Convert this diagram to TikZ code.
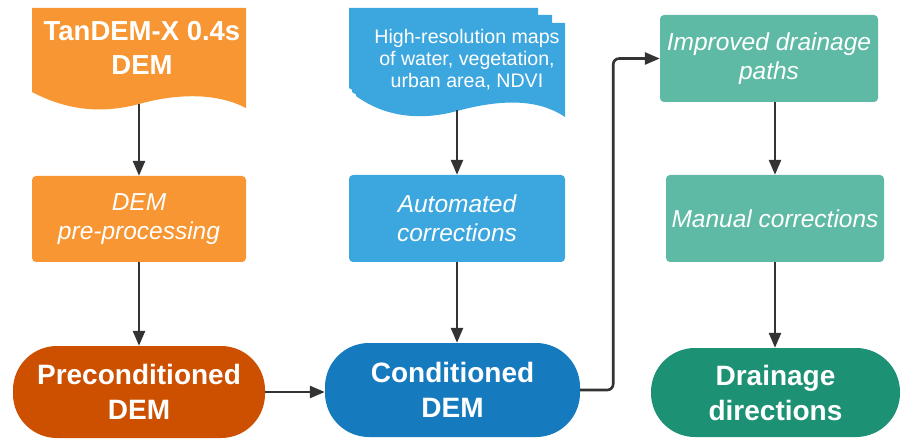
\documentclass[tikz,border=0pt]{standalone}
\usepackage{fontspec}
\setmainfont{Liberation Sans}
\usetikzlibrary{arrows.meta}
\definecolor{orangeL}{RGB}{247,150,51}
\definecolor{orangeD}{RGB}{204,80,0}
\definecolor{blueL}{RGB}{60,166,222}
\definecolor{blueD}{RGB}{22,122,191}
\definecolor{tealL}{RGB}{94,186,165}
\definecolor{tealD}{RGB}{28,145,116}
\definecolor{linkc}{RGB}{51,51,51}
\begin{document}
\begin{tikzpicture}[x=1pt,y=-1pt,
  box/.style={rectangle, rounded corners=4pt, minimum width=214pt, minimum height=86pt,
    inner sep=0pt, text=white, align=center, font=\fontsize{24.5}{29}\selectfont\itshape},
  term/.style={rectangle, rounded corners=44pt, minimum height=92pt, inner sep=0pt,
    text=white, align=center, font=\fontsize{28}{35}\selectfont\bfseries},
  doctext/.style={inner sep=0pt, text=white, align=center},
  link/.style={draw=linkc, line width=2.6pt, -{Triangle[length=15pt,width=12pt]}}
]
\useasboundingbox (0,0) rectangle (906,441);

% input DEM (document shape)
\fill[orangeL] (32,92) -- (32,8) -- (246,8) -- (246,108)
  .. controls (215,92) and (175,94) .. (139,104)
  .. controls (105,113) and (70,112) .. (32,92) -- cycle;
\node[doctext, font=\fontsize{27.5}{34}\selectfont\bfseries] (tdx) at (142,48) {TanDEM-X 0.4s\\DEM};
\coordinate (tdxb) at (139,104);

% auxiliary maps (stacked documents)
\fill[blueL] (349,88) -- (349,8) -- (538,8) -- (538,100)
  .. controls (500,85) and (460,88) .. (430,98)
  .. controls (400,106) and (375,104) .. (349,88) -- cycle;
\fill[blueL] (352,92) -- (352,15) -- (552,15) -- (552,108)
  .. controls (515,92) and (475,95) .. (445,104)
  .. controls (410,114) and (380,110) .. (352,92) -- cycle;
\fill[blueL] (356,96) -- (356,23) -- (565,23) -- (565,117)
  .. controls (540,100) and (505,98) .. (457,111)
  .. controls (420,121) and (385,117) .. (356,96) -- cycle;
\node[doctext, font=\fontsize{19.6}{22}\selectfont] (maps) at (467,60)
  {High-resolution maps\\of water, vegetation,\\urban area, NDVI};
\coordinate (mapsb) at (457,110);

% processing steps
\node[box, fill=orangeL] (pre) at (139,219) {DEM\\pre-processing};
\node[box, fill=blueL, minimum width=216pt, minimum height=87pt] (auto) at (457,218.5) {Automated\\corrections};
\node[box, fill=tealL, minimum width=218pt, minimum height=87pt] (impr) at (769,58.5) {Improved drainage\\paths};
\node[box, fill=tealL, minimum width=218pt, minimum height=87pt] (manual) at (775,218.5) {Manual corrections};

% results
\node[term, fill=orangeD, minimum width=252pt] (precond) at (139,392) {Preconditioned\\DEM};
\node[term, fill=blueD, minimum width=255pt, minimum height=94pt] (cond) at (452.5,390) {Conditioned\\DEM};
\node[term, fill=tealD, minimum width=249pt, minimum height=89pt] (drain) at (775.5,392.5) {Drainage\\directions};

% connectors
\draw[link] (tdxb) -- (tdxb |- pre.north);
\draw[link] (pre.south) -- (pre.south |- precond.north);
\draw[link] (mapsb) -- (mapsb |- auto.north);
\draw[link] (auto.south) -- (auto.south |- cond.north);
\draw[link] (precond.east) -- (precond.east -| cond.west);
\draw[link, rounded corners=6pt] (cond.east) -- ++(33,0) |- (impr.west);
\draw[link] (impr.south -| manual.north) -- (manual.north);
\draw[link] (manual.south) -- (manual.south |- drain.north);
\end{tikzpicture}
\end{document}
